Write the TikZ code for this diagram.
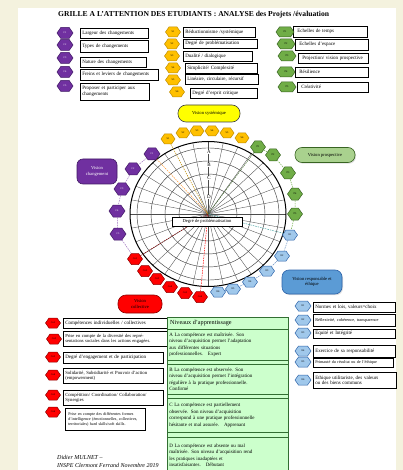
\documentclass[tikz,border=0pt]{standalone}
\usepackage{fontspec}
\setmainfont{Liberation Serif}
\usetikzlibrary{shapes.symbols,shadows}
\definecolor{bgc}{RGB}{244,242,222}
\definecolor{vio}{RGB}{112,48,160}
\definecolor{viod}{RGB}{64,24,100}
\definecolor{yel}{RGB}{255,192,0}
\definecolor{yeld}{RGB}{190,140,0}
\definecolor{ylab}{RGB}{255,255,0}
\definecolor{grn}{RGB}{112,173,71}
\definecolor{grnd}{RGB}{56,100,34}
\definecolor{rd}{RGB}{255,0,0}
\definecolor{rdd}{RGB}{140,0,0}
\definecolor{blu}{RGB}{160,200,235}
\definecolor{blud}{RGB}{46,100,170}
\definecolor{bluv}{RGB}{91,155,213}
\definecolor{lgr}{RGB}{204,255,204}
\definecolor{lgrd}{RGB}{50,110,50}
\definecolor{vpg}{RGB}{169,209,142}
\tikzset{
  hexa/.style={signal, signal to=east and west, signal pointer angle=110, draw, line width=0.5pt, inner sep=0pt, minimum width=15pt, minimum height=10pt, font=\fontsize{2.6}{3}\selectfont},
  hv/.style={hexa, fill=vio, draw=viod, text=white},
  hy/.style={hexa, fill=yel, draw=yeld},
  hg/.style={hexa, fill=grn, draw=grnd},
  hr/.style={hexa, fill=rd, draw=rdd},
  hb/.style={hexa, fill=blu, draw=blud},
  ibox/.style={draw=black, line width=0.5pt, fill=white, anchor=north west, inner xsep=2pt, inner ysep=0pt, align=left, font=\fontsize{5}{5.8}\selectfont},
  vlab/.style={draw, line width=0.6pt, rounded corners=7pt, align=center, inner sep=1pt, font=\fontsize{4.6}{5.4}\selectfont},
  lbox/.style={draw=lgrd, line width=0.5pt, fill=lgr, anchor=north west, inner xsep=2pt, inner ysep=0pt, align=left, font=\fontsize{5}{6.6}\selectfont},
  dl/.style={dash pattern=on 1.5pt off 1pt, line width=0.5pt},
}
\begin{document}
\begin{tikzpicture}[x=1pt,y=-1pt]
\useasboundingbox (0,0) rectangle (403,470);
\clip (0,0) rectangle (403,470);
\fill[bgc] (0,0) rectangle (403,470);
\fill[white] (18,8) rectangle (396,472);

\node[anchor=west, font=\bfseries\fontsize{7.6}{8.5}\selectfont, inner sep=0pt] (title) at (58,15) {GRILLE A L'ATTENTION DES ETUDIANTS : ANALYSE des Projets /évaluation};

% violet list
\node[ibox, text width=63.5pt, minimum height=10pt] (v1b) at (80,28) {Largeur des changements};
\node[ibox, text width=63.5pt, minimum height=12pt] (v2b) at (80,40) {Types de changements};
\node[ibox, text width=61.5pt, minimum height=10pt] (v3b) at (80,57) {Nature des changements};
\node[ibox, text width=73.5pt, minimum height=11pt] (v4b) at (80,69) {Freins et leviers de changements};
\node[ibox, text width=64.5pt, minimum height=17pt] (v5b) at (80,83) {Proposer et participer aux\\changements};
\node[hv, minimum width=16pt, minimum height=11pt] (v1) at (65,33) {C1};
\node[hv, minimum width=16pt, minimum height=11pt] (v2) at (65,45) {C2};
\node[hv, minimum width=16pt, minimum height=11pt] (v3) at (65,58) {C3};
\node[hv, minimum width=16pt, minimum height=11pt] (v4) at (65,72) {C4};
\node[hv, minimum width=16pt, minimum height=11pt] (v5) at (65,86) {C5};

% yellow list
\node[ibox, text width=67.5pt, minimum height=10pt] (y1b) at (183,27) {Réductionnisme /systémique};
\node[ibox, text width=69.5pt, minimum height=9pt] (y2b) at (183,39) {Degré de problématisation};
\node[ibox, text width=64.5pt, minimum height=10pt] (y3b) at (183,51) {Dualité / dialogique};
\node[ibox, text width=67.5pt, minimum height=10pt] (y4b) at (185,63) {Simplicité/ Complexité};
\node[ibox, text width=68.5pt, minimum height=10pt] (y5b) at (185,74) {Linéaire, circulaire, récursif};
\node[ibox, text width=62.5pt, minimum height=10pt] (y6b) at (190,88) {Degré d'esprit critique};
\node[hy] (y1) at (173,32) {S1};
\node[hy] (y2) at (172,44) {S2};
\node[hy] (y3) at (172,56) {S3};
\node[hy] (y4) at (173,68) {S4};
\node[hy] (y5) at (173,80) {S5};
\node[hy] (y6) at (177,92) {S6};

% green list
\node[ibox, inner xsep=4pt, text width=65.5pt, minimum height=11pt] (g1b) at (293,26) {Echelles de temps};
\node[ibox, inner xsep=4pt, text width=64.5pt, minimum height=11pt] (g2b) at (295,39) {Echelles d'espace};
\node[ibox, inner xsep=4pt, text width=61.5pt, minimum height=10pt] (g3b) at (298,53) {Projection/ vision prospective};
\node[ibox, inner xsep=4pt, text width=64.5pt, minimum height=10pt] (g4b) at (295,67) {Résilience};
\node[ibox, inner xsep=4pt, text width=62.5pt, minimum height=10pt] (g5b) at (297,82) {Créativité};
\node[hg, minimum width=18pt] (g1) at (285,32) {P1};
\node[hg, minimum width=18pt] (g2) at (286,44) {P2};
\node[hg, minimum width=18pt] (g3) at (287,56) {P3};
\node[hg, minimum width=18pt] (g4) at (286,72) {P4};
\node[hg, minimum width=18pt] (g5) at (287,87) {P5};

% vision labels
\node[vlab, fill=ylab, draw=black!75, minimum width=62pt, minimum height=17pt, rounded corners=8pt] (vsys) at (209,113.5) {Vision systémique};
\node[vlab, fill=vio, draw=viod, text=white, minimum width=40pt, minimum height=25pt, rounded corners=6pt] (vchg) at (97,171.5) {Vision\\changement};
\node[vlab, fill=vpg, draw=grnd, minimum width=60pt, minimum height=15pt, drop shadow={opacity=0.25, shadow xshift=1pt, shadow yshift=-1.2pt}] (vpro) at (325,155) {Vision prospective};
\node[vlab, fill=bluv, draw=blud, minimum width=60pt, minimum height=24pt, drop shadow={opacity=0.25, shadow xshift=1pt, shadow yshift=-1.2pt}] (vres) at (312,282) {Vision responsable et\\éthique};
\node[vlab, fill=rd, draw=rdd, minimum width=44pt, minimum height=18pt, rounded corners=8pt] (vcol) at (140,304) {Vision\\collective};

% circle grid
\coordinate (ctr) at (208,214);
\foreach \r in {71,57,43,29}{
  \draw[line width=0.45pt, black!75] (ctr) ellipse ({\r*1pt} and {\r*0.93pt});
}
\foreach \a in {0,11.25,...,350}{
  \draw[line width=0.35pt, black!70] (ctr) -- ++({78*cos(\a)},{72.5*sin(\a)});
}
\draw[line width=1pt] (ctr) ellipse (78pt and 72.5pt);
\foreach \n/\yy in {A/152,B/165,C/178,D/197}{
  \node[fill=white, inner sep=0.4pt, font=\fontsize{5}{5}\selectfont] (L\n) at (209,\yy) {\n};
}

% hexagons around the circle
\node[hv, minimum width=16pt, minimum height=12pt] (cv1) at (152,154) {C1};
\node[hv, minimum width=16pt, minimum height=12pt] (cv2) at (133,169) {C2};
\node[hv, minimum width=16pt, minimum height=12pt] (cv3) at (122,189) {C3};
\node[hv, minimum width=16pt, minimum height=12pt] (cv4) at (117,211) {C4};
\node[hv, minimum width=16pt, minimum height=12pt] (cv5) at (118,234) {C5};
\node[hy, minimum width=14pt] (cy1) at (168,139) {S1};
\node[hy, minimum width=14pt] (cy2) at (183,133) {S2};
\node[hy, minimum width=14pt] (cy3) at (197,131) {S3};
\node[hy, minimum width=14pt] (cy4) at (212,131) {S4};
\node[hy, minimum width=14pt] (cy5) at (227,133) {S5};
\node[hy, minimum width=14pt] (cy6) at (242,138) {S6};
\node[hg, minimum width=15pt, minimum height=12pt] (cg1) at (258,147) {P1};
\node[hg, minimum width=15pt, minimum height=12pt] (cg2) at (273,155) {P2};
\node[hg, minimum width=15pt, minimum height=12pt] (cg3) at (288,173) {P3};
\node[hg, minimum width=15pt, minimum height=12pt] (cg4) at (295,194) {P4};
\node[hg, minimum width=15pt, minimum height=12pt] (cg5) at (295,214) {P5};
\node[hb] (cb1) at (290,235) {E1};
\node[hb] (cb2) at (282,256) {E2};
\node[hb] (cb3) at (267,271) {E3};
\node[hb] (cb4) at (250,282) {E4};
\node[hb] (cb5) at (233,289) {E5};
\node[hb] (cb6) at (218,292) {E6};
\node[hr, minimum height=11pt] (cr1) at (135,259) {Co1};
\node[hr, minimum height=11pt] (cr2) at (145,271) {Co2};
\node[hr, minimum height=11pt] (cr3) at (157,279) {Co3};
\node[hr, minimum height=11pt] (cr4) at (170,287) {Co4};
\node[hr, minimum height=11pt] (cr5) at (185,293) {Co5};
\node[hr, minimum height=11pt] (cr6) at (200,297) {Co6};

% dashed links
\foreach \i/\j in {cv1/cv2,cv2/cv3,cv3/cv4,cv4/cv5,cv5/cr1}{\draw[dl, vio!70] (\i) -- (\j);}
\foreach \i/\j in {cg1/cg2,cg2/cg3,cg3/cg4,cg4/cg5,cg5/cb1}{\draw[dl, grn] (\i) -- (\j);}
\foreach \i/\j in {cb1/cb2,cb2/cb3,cb3/cb4,cb4/cb5,cb5/cb6}{\draw[dl, blud!70] (\i) -- (\j);}
\draw[dl, yeld] (cy1) -- (ctr);
\draw[dl, orange!80] (cv1) -- (ctr);
\draw[dl, grnd] (cg1) -- (ctr);
\draw[dl, teal!70] (cb1) -- (ctr);
\draw[dl, rdd] (cr1) -- (ctr);
\draw[dl, rd] (cr6) -- (ctr);

\node[draw, fill=white, line width=0.5pt, minimum width=70pt, minimum height=9pt, inner sep=0.5pt, font=\fontsize{4.6}{5}\selectfont] (dp) at (207,221.5) {Degré de problématisation};

% red list
\node[ibox, text width=102.5pt, minimum height=10pt] (r1b) at (63,318) {Compétences individuelles / collectives};
\node[ibox, text width=102.5pt, minimum height=15pt, font=\fontsize{4.6}{5.4}\selectfont] (r2b) at (63,331) {Prise en compte de la diversité des repré-\\sentations sociales dans les actions engagées.};
\node[ibox, text width=95.5pt, minimum height=11pt] (r3b) at (63,352) {Degré d'engagement et de participation};
\node[ibox, text width=95.5pt, minimum height=15pt, font=\fontsize{4.7}{5.6}\selectfont] (r4b) at (63,368) {Solidarité, Subsidiarité et Pouvoir d'action\\(empowerment)};
\node[ibox, text width=95.5pt, minimum height=15pt, font=\fontsize{4.7}{5.6}\selectfont] (r5b) at (63,390) {Compétition/ Coordination/ Collaboration/\\Synergies};
\node[ibox, inner xsep=3pt, text width=73.5pt, minimum height=22pt, font=\fontsize{4.1}{5.2}\selectfont] (r6b) at (65,408) {Prise en compte des différentes formes\\d'intelligence (émotionnelles, collectives,\\territoriales) hard skills/soft skills.};
\node[hr] (r1) at (53,323) {Co1};
\node[hr] (r2) at (54,339) {Co2};
\node[hr] (r3) at (53,357) {Co3};
\node[hr] (r4) at (53,375) {Co4};
\node[hr] (r5) at (53,395) {Co5};
\node[hr] (r6) at (53,412) {Co6};

% blue list
\node[ibox, text width=77.5pt, minimum height=10pt] (b1b) at (313,302) {Normes et lois, valeurs=choix};
\node[ibox, text width=77.5pt, minimum height=12pt, font=\fontsize{4.3}{5}\selectfont] (b2b) at (313,314) {Réflexivité, cohérence, transparence};
\node[ibox, text width=77.5pt, minimum height=9pt] (b3b) at (313,329) {Equité et Intégrité};
\node[ibox, text width=77.5pt, minimum height=12pt] (b4b) at (313,345) {Exercice de sa responsabilité};
\node[ibox, text width=75.5pt, minimum height=9pt, font=\fontsize{4.2}{5}\selectfont] (b5b) at (313,358) {Primauté du résultat ou de l'éthique};
\node[ibox, text width=78.5pt, minimum height=16pt] (b6b) at (313,372) {Ethique utilitariste, des valeurs\\ou des biens communs};
\node[hb, minimum width=16pt] (b1) at (303,306) {E1};
\node[hb, minimum width=16pt] (b2) at (303,320) {E2};
\node[hb, minimum width=16pt] (b3) at (303,333) {E3};
\node[hb, minimum width=16pt] (b4) at (303,351) {E4};
\node[hb, minimum width=16pt] (b5) at (303,362) {E5};
\node[hb, minimum width=16pt] (b6) at (303,380) {E6};

% niveaux d'apprentissage
\node[draw=lgrd, fill=lgr, line width=0.5pt, anchor=north west, minimum width=121pt, minimum height=156pt, inner sep=0pt] (niv) at (167,317) {};
\node[anchor=west, font=\fontsize{6.2}{7}\selectfont, inner sep=0pt] (nivt) at (170,323.5) {Niveaux d'apprentissage};
\node[lbox, text width=116.5pt, minimum height=31pt] (na) at (167,329) {A La compétence est maîtrisée. Son\\niveau d'acquisition permet l'adaptation\\aux différentes situations\\professionnelles.\quad Expert};
\node[lbox, text width=116.5pt, minimum height=30pt] (nb) at (167,364) {B La compétence est observée. Son\\niveau d'acquisition permet l'intégration\\régulière à la pratique professionnelle.\\Confirmé};
\node[lbox, text width=116.5pt, minimum height=34pt] (nc) at (167,398) {C La compétence est partiellement\\observée. Son niveau d'acquisition\\correspond à une pratique professionnelle\\hésitante et mal assurée.\quad Apprenant};
\node[lbox, text width=116.5pt, minimum height=36pt] (nd) at (167,437) {D La compétence est absente ou mal\\maîtrisée. Son niveau d'acquisition rend\\les pratiques inadaptées et\\insatisfaisantes.\quad Débutant};

% author
\node[anchor=west, font=\itshape\fontsize{6}{6}\selectfont, inner sep=0pt] (auth1) at (57,457) {Didier MULNET –};
\node[anchor=west, font=\itshape\fontsize{6}{6}\selectfont, inner sep=0pt] (auth2) at (57,465) {INSPE Clermont Ferrand Novembre 2019};
\end{tikzpicture}
\end{document}
